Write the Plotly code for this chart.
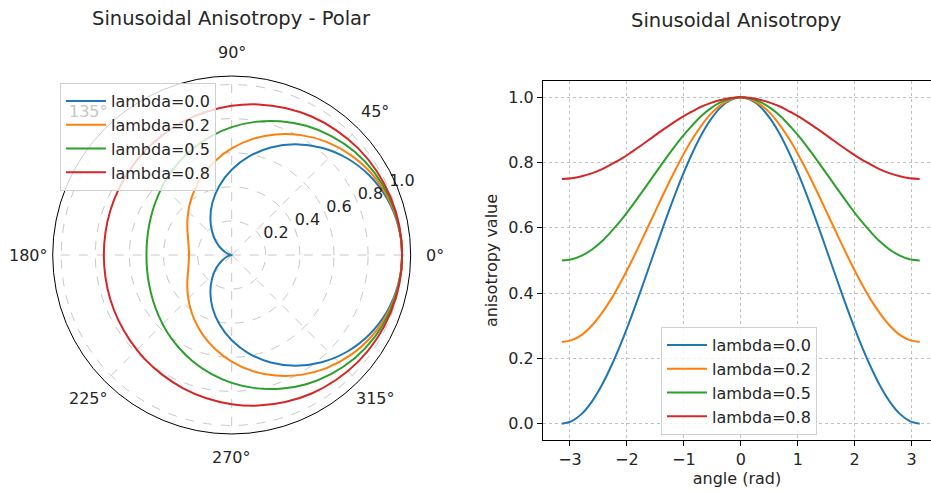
import numpy as np
import plotly.graph_objects as go

# angles in degrees (-180 .. 180, every 10 degrees)
angles_deg = [-180, -170, -160, -150, -140, -130, -120, -110, -100, -90,
              -80, -70, -60, -50, -40, -30, -20, -10, 0,
              10, 20, 30, 40, 50, 60, 70, 80, 90,
              100, 110, 120, 130, 140, 150, 160, 170, 180]

lam00 = [0.000, 0.008, 0.030, 0.067, 0.117, 0.179, 0.250, 0.329, 0.413, 0.500,
         0.587, 0.671, 0.750, 0.821, 0.883, 0.933, 0.970, 0.992, 1.000,
         0.992, 0.970, 0.933, 0.883, 0.821, 0.750, 0.671, 0.587, 0.500,
         0.413, 0.329, 0.250, 0.179, 0.117, 0.067, 0.030, 0.008, 0.000]
lam02 = [0.250, 0.256, 0.272, 0.300, 0.338, 0.384, 0.438, 0.497, 0.560, 0.625,
         0.690, 0.753, 0.812, 0.866, 0.912, 0.950, 0.977, 0.994, 1.000,
         0.994, 0.977, 0.950, 0.912, 0.866, 0.812, 0.753, 0.690, 0.625,
         0.560, 0.497, 0.438, 0.384, 0.338, 0.300, 0.272, 0.256, 0.250]
lam05 = [0.500, 0.504, 0.515, 0.533, 0.558, 0.590, 0.625, 0.665, 0.707, 0.750,
         0.793, 0.835, 0.875, 0.910, 0.942, 0.967, 0.985, 0.996, 1.000,
         0.996, 0.985, 0.967, 0.942, 0.910, 0.875, 0.835, 0.793, 0.750,
         0.707, 0.665, 0.625, 0.590, 0.558, 0.533, 0.515, 0.504, 0.500]
lam08 = [0.750, 0.752, 0.758, 0.767, 0.779, 0.795, 0.812, 0.832, 0.853, 0.875,
         0.897, 0.918, 0.938, 0.955, 0.971, 0.983, 0.992, 0.998, 1.000,
         0.998, 0.992, 0.983, 0.971, 0.955, 0.938, 0.918, 0.897, 0.875,
         0.853, 0.832, 0.812, 0.795, 0.779, 0.767, 0.758, 0.752, 0.750]

series_names = ["lambda=0.0", "lambda=0.2", "lambda=0.5", "lambda=0.8"]
series_vals = [lam00, lam02, lam05, lam08]
colors = ["#1f77b4", "#ff7f0e", "#2ca02c", "#d62728"]

# polar tick labels
theta_ticks = [0, 45, 90, 135, 180, 225, 270, 315]
theta_ticktext = ["0°", "45°", "90°", "135°", "180°", "225°", "270°", "315°"]
r_ticks = [0.2, 0.4, 0.6, 0.8, 1.0]
r_ticktext = ["0.2", "0.4", "0.6", "0.8", "1.0"]
R_MAX = 1.05
THETA_LABEL_R = 1.19   # radius where angular labels sit (outside the frame)
R_LABEL_ANGLE = 22.5

# cartesian tick labels
x_ticks = [-3, -2, -1, 0, 1, 2, 3]
x_ticktext = ["\u22123", "\u22122", "\u22121", "0", "1", "2", "3"]
y_ticks = [0.0, 0.2, 0.4, 0.6, 0.8, 1.0]
y_ticktext = ["0.0", "0.2", "0.4", "0.6", "0.8", "1.0"]

angles_rad = np.deg2rad(angles_deg)

W, H = 931, 493
FONT = "DejaVu Sans"
TXT = "#262626"
FADED = "#c6c6c6"   # label seen through the semi-transparent legend
FS = 16
TFS = 19.5

POLAR_DOM_X = [0.0566, 0.4411]
POLAR_DOM_Y = [0.1197, 0.8458]

fig = go.Figure()

for name, vals, col in zip(series_names, series_vals, colors):
    fig.add_trace(go.Scatterpolar(
        r=vals, theta=angles_deg, mode="lines", name=name,
        line=dict(color=col, width=2, shape="spline"),
        legend="legend", subplot="polar"))

# radial tick labels (matplotlib-style: anchored bottom-left at the tick point)
fig.add_trace(go.Scatterpolar(
    r=r_ticks, theta=[R_LABEL_ANGLE] * len(r_ticks), mode="text",
    text=r_ticktext, textposition="top right",
    textfont=dict(family=FONT, size=FS, color=TXT),
    showlegend=False, hoverinfo="skip", subplot="polar"))

for name, vals, col in zip(series_names, series_vals, colors):
    fig.add_trace(go.Scatter(
        x=angles_rad, y=vals, mode="lines", name=name,
        line=dict(color=col, width=2, shape="spline"),
        legend="legend2", xaxis="x", yaxis="y"))

# angular tick labels placed around the polar frame (centered, matplotlib-like)
cx = (POLAR_DOM_X[0] + POLAR_DOM_X[1]) / 2 * W
cy = (POLAR_DOM_Y[0] + POLAR_DOM_Y[1]) / 2 * H
rad_px = (POLAR_DOM_X[1] - POLAR_DOM_X[0]) * W / 2
d = THETA_LABEL_R / R_MAX * rad_px
annotations = []
for t, txt in zip(theta_ticks, theta_ticktext):
    px = cx + d * np.cos(np.deg2rad(t))
    py = cy + d * np.sin(np.deg2rad(t))
    annotations.append(dict(
        text=txt, x=px / W, y=py / H, xref="paper", yref="paper",
        xanchor="center", yanchor="middle", showarrow=False,
        font=dict(family=FONT, size=FS, color=FADED if t == 135 else TXT)))

annotations += [
    dict(text="Sinusoidal Anisotropy - Polar", x=231 / W, y=1 - 19 / H,
         xref="paper", yref="paper", xanchor="center", yanchor="middle",
         showarrow=False, font=dict(family=FONT, size=TFS, color=TXT)),
    dict(text="Sinusoidal Anisotropy", x=736 / W, y=1 - 20 / H,
         xref="paper", yref="paper", xanchor="center", yanchor="middle",
         showarrow=False, font=dict(family=FONT, size=TFS, color=TXT)),
]

grid_col = "#c8c8c8"

fig.update_layout(
    width=W, height=H,
    margin=dict(l=0, r=0, t=0, b=0),
    paper_bgcolor="white", plot_bgcolor="white",
    font=dict(family=FONT, size=FS, color=TXT),
    showlegend=True,
    polar=dict(
        domain=dict(x=POLAR_DOM_X, y=POLAR_DOM_Y),
        bgcolor="white",
        angularaxis=dict(
            rotation=0, direction="counterclockwise",
            tickmode="array", tickvals=theta_ticks,
            showgrid=True, gridcolor=grid_col, griddash="dash", gridwidth=1,
            showline=True, linecolor="black", linewidth=1,
            ticks="", showticklabels=False,
        ),
        radialaxis=dict(
            range=[0, R_MAX], angle=R_LABEL_ANGLE,
            tickmode="array", tickvals=r_ticks,
            showgrid=True, gridcolor=grid_col, griddash="dash", gridwidth=1,
            showline=False, ticks="", showticklabels=False,
        ),
    ),
    xaxis=dict(
        domain=[0.5832, 1.0], range=[-3.474, 3.34],
        tickmode="array", tickvals=x_ticks, ticktext=x_ticktext,
        showgrid=True, gridcolor="#c0c0c0", griddash="dot", gridwidth=1,
        showline=True, linecolor="black", linewidth=1, mirror=True,
        ticks="outside", ticklen=5, tickcolor="black",
        zeroline=False,
        title=dict(text="angle (rad)", font=dict(family=FONT, size=FS, color=TXT), standoff=3),
        tickfont=dict(family=FONT, size=FS, color=TXT),
    ),
    yaxis=dict(
        domain=[0.1075, 0.8357], range=[-0.05, 1.05],
        tickmode="array", tickvals=y_ticks, ticktext=y_ticktext,
        showgrid=True, gridcolor="#c0c0c0", griddash="dot", gridwidth=1,
        showline=True, linecolor="black", linewidth=1, mirror=False,
        ticks="outside", ticklen=5, tickcolor="black",
        zeroline=False,
        title=dict(text="anisotropy value", font=dict(family=FONT, size=FS, color=TXT), standoff=6),
        tickfont=dict(family=FONT, size=FS, color=TXT),
    ),
    legend=dict(
        x=60 / W, y=1 - 83 / H, xanchor="left", yanchor="top",
        bgcolor="rgba(255,255,255,0.8)", bordercolor="#d0d0d0", borderwidth=1,
        font=dict(family=FONT, size=FS, color=TXT), itemwidth=40,
        tracegroupgap=0,
    ),
    legend2=dict(
        x=661 / W, y=1 - 327 / H, xanchor="left", yanchor="top",
        bgcolor="rgba(255,255,255,0.8)", bordercolor="#d0d0d0", borderwidth=1,
        font=dict(family=FONT, size=FS, color=TXT), itemwidth=40,
        tracegroupgap=0,
    ),
    annotations=annotations,
)

fig.write_html(
    "out.html",
    config={"displayModeBar": False},
    post_script="document.body.style.margin='0';document.body.style.overflow='hidden';",
)
